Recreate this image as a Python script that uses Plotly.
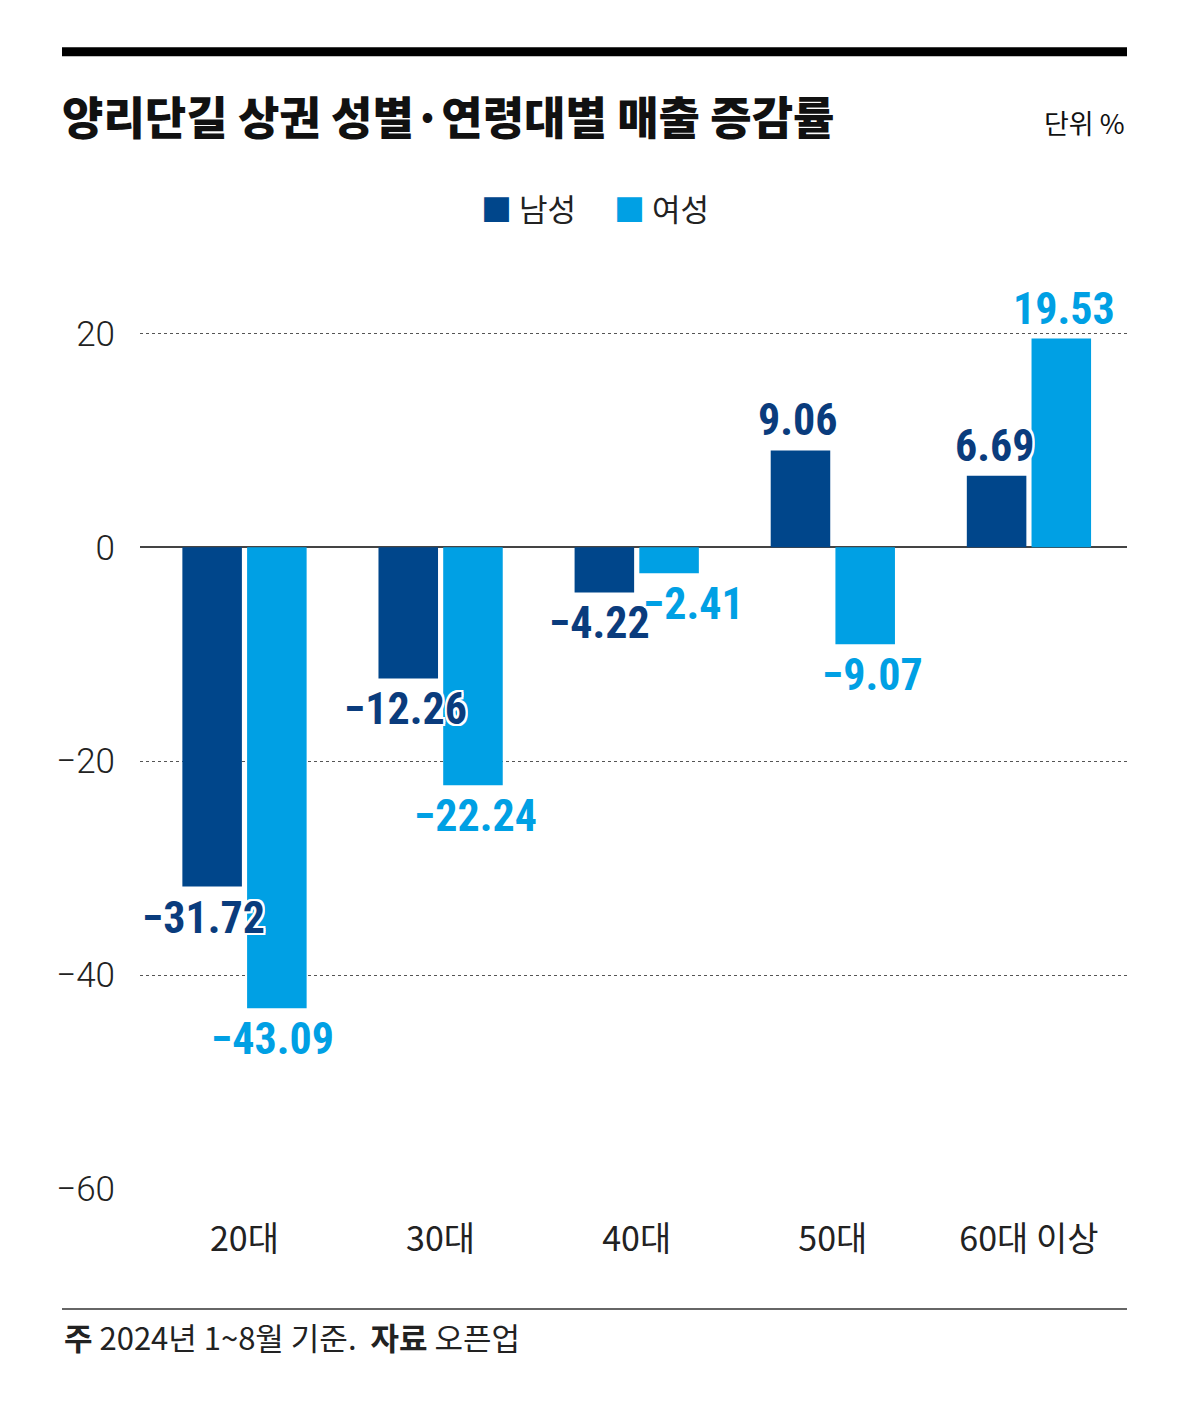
import plotly.graph_objects as go

categories = ["20대", "30대", "40대", "50대", "60대 이상"]
male = [-31.72, -12.26, -4.22, 9.06, 6.69]
female = [-43.09, -22.24, -2.41, -9.07, 19.53]
series_names = ["남성", "여성"]
y_ticks = [20, 0, -20, -40, -60]

DARK = "#00468B"
LIGHT = "#00A0E4"
DARK_TXT = "#0A3C7D"
LIGHT_TXT = "#00A0E4"
KR = "Noto Sans CJK KR"
NUM = "Liberation Sans Narrow, Roboto Condensed, Roboto, sans-serif"

W, H = 1200, 1404
L, R = 140, 1127
T_PX, B_PX = 279.5, 1189

fig = go.Figure()
fig.add_trace(go.Bar(x=categories, y=male, name=series_names[0], marker_color=DARK,
                     marker_line_width=0, showlegend=False, hoverinfo="skip"))
fig.add_trace(go.Bar(x=categories, y=female, name=series_names[1], marker_color=LIGHT,
                     marker_line_width=0, showlegend=False, hoverinfo="skip"))

def fmt(v):
    return ("\u2212" if v < 0 else "") + f"{abs(v):.2f}"

outline = ", ".join(f"{dx}px {dy}px 0 #fff" for dx in (-2, 0, 2) for dy in (-2, 0, 2) if dx or dy)

# extra horizontal nudges (px) for label readability
male_nudge = [-8, -2, -4, -2, -1]
female_nudge = [-5, 2, 24, 7, 2]
OFF = 33
annotations = []
for i, c in enumerate(categories):
    for vals, sgn, col, nud in ((male, -1, DARK_TXT, male_nudge), (female, 1, LIGHT_TXT, female_nudge)):
        v = vals[i]
        annotations.append(dict(
            x=c, y=v, xref="x", yref="y", text=fmt(v), showarrow=False,
            xanchor="center", yanchor="middle",
            xshift=sgn * OFF + nud[i], yshift=(30 if v > 0 else -31),
            font=dict(family=NUM, size=44, color=col, weight=700, shadow=outline),
        ))

# title, unit, legend, footer
annotations += [
    dict(x=60, y=H - 115, xref="paper", yref="paper", text="양리단길 상권 성별·연령대별 매출 증감률",
         showarrow=False, xanchor="left", yanchor="middle",
         font=dict(family=KR, size=45, color="#111", weight=900)),
    dict(x=1127, y=H - 122, xref="paper", yref="paper", text="단위 %",
         showarrow=False, xanchor="right", yanchor="middle",
         font=dict(family=KR, size=27, color="#111")),
    dict(x=595, y=H - 207, xref="paper", yref="paper",
         text=f"<span style='color:{DARK}'>■</span> {series_names[0]}\u2003 <span style='color:{LIGHT}'>■</span> {series_names[1]}",
         showarrow=False, xanchor="center", yanchor="middle",
         font=dict(family=KR, size=31, color="#222")),
    dict(x=62, y=H - 1337, xref="paper", yref="paper",
         text="<b>주</b> 2024년 1~8월 기준.  <b>자료</b> 오픈업",
         showarrow=False, xanchor="left", yanchor="middle",
         font=dict(family=KR, size=31, color="#222")),
]

plot_w = R - L
plot_h = B_PX - T_PX
for a in annotations:
    if a.get("xref") == "paper":
        a["x"] = (a["x"] - L) / plot_w
        a["y"] = (a["y"] - (H - B_PX)) / plot_h

def py(px):
    return (H - px - (H - B_PX)) / plot_h

shapes = [
    dict(type="line", xref="paper", yref="paper", x0=(62 - L) / plot_w, x1=1.0,
         y0=py(51), y1=py(51), line=dict(color="#000", width=9)),
    dict(type="line", xref="paper", yref="paper", x0=(62 - L) / plot_w, x1=1.0,
         y0=py(1309), y1=py(1309), line=dict(color="#666", width=2)),
]

fig.update_layout(
    width=W, height=H,
    margin=dict(l=L, r=W - R, t=T_PX, b=H - B_PX),
    paper_bgcolor="#fff", plot_bgcolor="#fff",
    barmode="group", bargap=0.34, bargroupgap=0.08,
    showlegend=False,
    annotations=annotations, shapes=shapes,
    font=dict(family=KR),
)
fig.update_xaxes(
    type="category", showgrid=False, showline=False, ticks="",
    tickfont=dict(family=KR, size=34, color="#222"),
    ticklabelstandoff=27,
)
fig.update_yaxes(
    range=[-60, 25], tickvals=y_ticks,
    ticktext=[("\u2212" if t < 0 else "") + str(abs(t)) for t in y_ticks],
    showgrid=True, gridcolor="#555", griddash="dot", gridwidth=1,
    zeroline=True, zerolinecolor="#444", zerolinewidth=1.5,
    showline=False, ticks="",
    tickfont=dict(family="Roboto", size=35, color="#222", weight=300),
    ticklabelstandoff=24,
)
fig.write_html("out.html", config={"displayModeBar": False},
               post_script="document.body.style.margin='0';")
